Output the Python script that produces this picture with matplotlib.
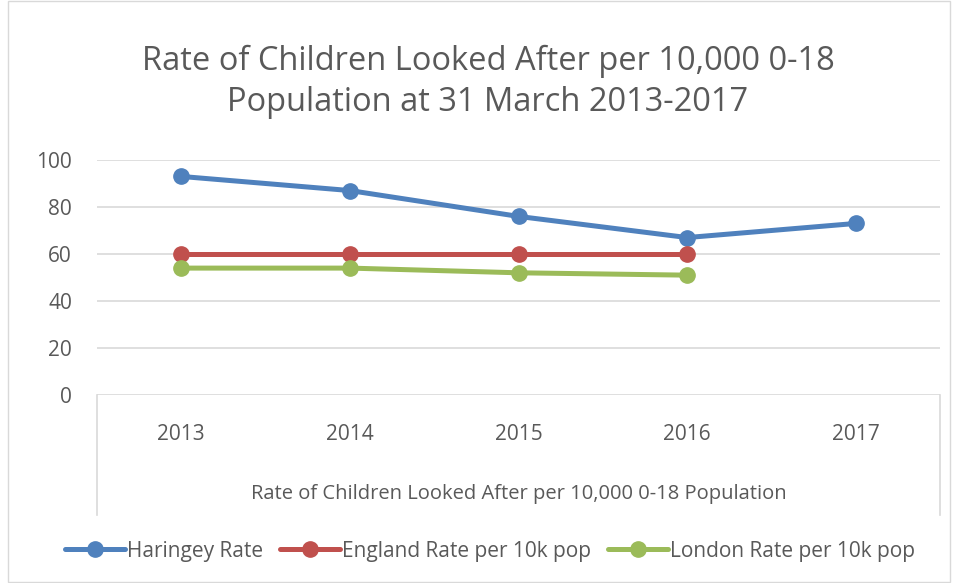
import matplotlib.pyplot as plt
from matplotlib.patches import Rectangle
from matplotlib.lines import Line2D

years = ["2013", "2014", "2015", "2016", "2017"]
haringey = [93, 87, 76, 67, 73]
england = [60, 60, 60, 60]
london = [54, 54, 52, 51]

titulo = "Rate of Children Looked After per 10,000 0-18\nPopulation at 31 March 2013-2017"
eixo_x = "Rate of Children Looked After per 10,000 0-18 Population"
nomes = ["Haringey Rate", "England Rate per 10k pop", "London Rate per 10k pop"]
cores = ["#4F81BD", "#C0504D", "#9BBB59"]

plt.rcParams["font.family"] = ["Open Sans", "DejaVu Sans"]
cinza = "#595959"
cinza_linha = "#D9D9D9"

fig = plt.figure(figsize=(9.55, 5.83), dpi=100)
W, H = 955, 583
ax = fig.add_axes([97 / W, 1 - 395 / H, (940 - 97) / W, (395 - 160) / H])

# moldura do gráfico
fig.add_artist(Rectangle((8 / W, 0.002), (950 - 8) / W, 0.996, transform=fig.transFigure,
                         fill=False, edgecolor=cinza_linha, linewidth=1))

x = list(range(len(years)))
for serie, cor, nome in zip([haringey, england, london], cores, nomes):
    ax.plot(x[:len(serie)], serie, color=cor, linewidth=3.6, marker="o",
            markersize=11, label=nome, solid_capstyle="round", zorder=3)

ax.set_xlim(-0.5, 4.5)
ax.set_ylim(0, 100)
ax.set_yticks(range(0, 101, 20))
ax.grid(axis="y", color=cinza_linha, linewidth=1.2)
ax.set_axisbelow(True)
for s in ax.spines.values():
    s.set_visible(False)
ax.tick_params(axis="y", length=0, labelsize=15, labelcolor=cinza, pad=18)
ax.set_xticks([])

# caixa do eixo das categorias
yb = 1 - 515 / H
for xp in [97, 940]:
    fig.add_artist(Line2D([xp / W, xp / W], [1 - 395 / H, yb], transform=fig.transFigure,
                          color=cinza_linha, linewidth=1.2))
for i, ano in enumerate(years):
    ax.text(i, -17, ano, ha="center", va="center", fontsize=15, color=cinza)
ax.text(2, -42, eixo_x, ha="center", va="center", fontsize=14.5, color=cinza)

fig.text(488 / W, 1 - 82 / H, titulo, ha="center", va="center", fontsize=23.5,
         color=cinza, linespacing=1.3)

leg = fig.legend(loc="center", bbox_to_anchor=(490 / W, 1 - 551 / H), ncol=3, frameon=False,
                 fontsize=15, handlelength=2.9, handletextpad=0.1, columnspacing=0.8)
for t in leg.get_texts():
    t.set_color(cinza)

fig.savefig("out.png", dpi=100)
